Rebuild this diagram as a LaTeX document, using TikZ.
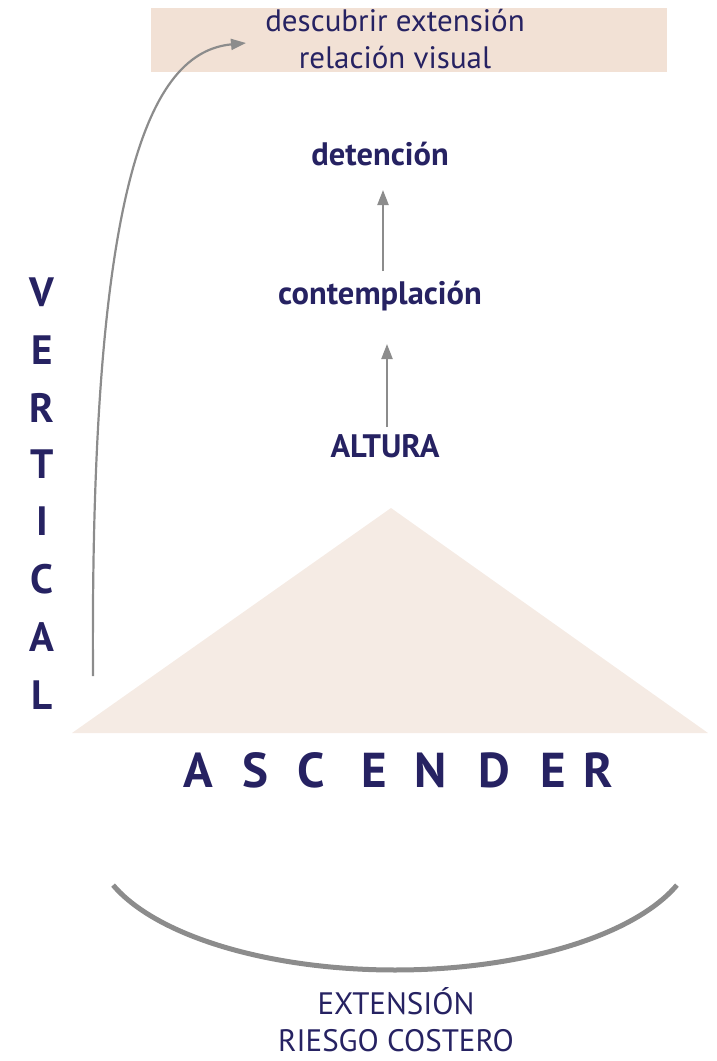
\documentclass[tikz,border=0pt]{standalone}
\usepackage{fontspec}
\setmainfont{PT Sans}
\usetikzlibrary{arrows.meta}
\definecolor{navy}{RGB}{38,34,98}
\definecolor{peach}{RGB}{242,225,213}
\definecolor{tri}{RGB}{245,235,228}
\definecolor{arrowgray}{RGB}{140,140,140}
\tikzset{
  lbl/.style={text=navy, inner sep=0pt, font=\fontsize{31}{36}\selectfont},
  blbl/.style={text=navy, inner sep=0pt, font=\bfseries\fontsize{32.5}{36}\selectfont},
  vlet/.style={text=navy, inner sep=0pt, font=\bfseries\fontsize{41}{41}\selectfont},
  hlet/.style={text=navy, inner sep=0pt, font=\bfseries\fontsize{49}{49}\selectfont},
  conn/.style={draw=arrowgray, line width=2.2pt, -{Triangle[length=15pt,width=11pt]}},
}
\begin{document}
\begin{tikzpicture}[x=1pt,y=-1pt]
\useasboundingbox (0,0) rectangle (717,1061);
% top box
\fill[peach] (151,8) rectangle (667,72);
\node[lbl] (top1) at (395,21) {descubrir extensión};
\node[lbl] (top2) at (395,58) {relación visual};
\coordinate (topend) at (246,43);
% triangle
\fill[tri] (391,508) -- (708,733) -- (72,733) -- cycle;
% vertical chain
\node[blbl] (det) at (380,154) {detención};
\node[blbl] (cont) at (380,296) {contemplación};
\node[blbl] (alt) at (385,446) {ALTURA};
\coordinate (a1s) at (383,271);
\coordinate (a1e) at (383,190);
\coordinate (a2s) at (387,427);
\coordinate (a2e) at (387,344);
\draw[conn] (a1s) -- (a1e);
\draw[conn] (a2s) -- (a2e);
% VERTICAL
\foreach \l/\y [count=\i] in {V/292,E/350,R/408,T/464,I/521,C/579,A/637,L/695}
  \node[vlet] (v\i) at (42,\y) {\l};
% curved arrow
\coordinate (cstart) at (93,676);
\draw[conn] (cstart) .. controls (90,180) and (150,52) .. (topend);
% ASCENDER
\foreach \l/\x [count=\i] in {A/198,S/255,C/311,E/374,N/431,D/494,E/553,R/598}
  \node[hlet] (s\i) at (\x,770) {\l};
% bottom arc
\draw[arrowgray, line width=5pt] plot[domain=20:160, samples=60, smooth] ({395+300*cos(\x)},{841+129*sin(\x)});
\node[lbl, anchor=base] (ext) at (396,1014) {EXTENSIÓN};
\node[lbl, anchor=base] (ries) at (396,1051) {RIESGO COSTERO};
\end{tikzpicture}
\end{document}
